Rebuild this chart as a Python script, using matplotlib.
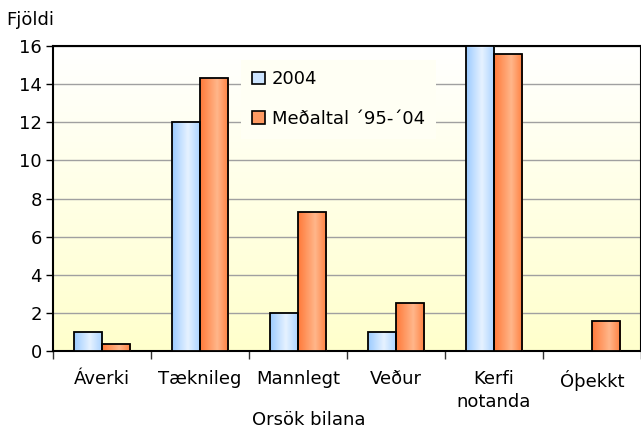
import numpy as np
import matplotlib
matplotlib.use('Agg')
import matplotlib.pyplot as plt
from matplotlib.colors import LinearSegmentedColormap
from matplotlib.patches import Patch

categories = ['Áverki', 'Tæknileg', 'Mannlegt', 'Veður', 'Kerfi\nnotanda', 'Óþekkt']
vals_2004 = [1, 12, 2, 1, 16, 0]
vals_avg = [0.35, 14.3, 7.3, 2.5, 15.6, 1.6]
series_names = ['2004', 'Meðaltal ´95-´04']

plt.rcParams['font.family'] = 'DejaVu Sans'
plt.rcParams['font.size'] = 13

fig = plt.figure(figsize=(6.41, 4.30), dpi=100)
ax = fig.add_axes([53/641, 79/430, 588/641, 305/430])

# background gradient, white at top to light yellow at bottom
bg = LinearSegmentedColormap.from_list('bg', ['#FFFFCC', '#FFFFFF'])
ax.imshow(np.linspace(0, 1, 256).reshape(-1, 1), cmap=bg, origin='lower',
          extent=(0, 1, 0, 1), transform=ax.transAxes, aspect='auto', zorder=0)

blue_cm = LinearSegmentedColormap.from_list('b', [(0, '#9CCBFF'), (0.55, '#E6F2FF'), (1, '#A9D2FF')])
orange_cm = LinearSegmentedColormap.from_list('o', [(0, '#FF7A3A'), (0.6, '#FFB68A'), (1, '#FF8040')])

x = np.arange(len(categories))
w = 0.29
grad = np.linspace(0, 1, 64).reshape(1, -1)

def gradient_bars(pos, vals, cmap):
    bars = ax.bar(pos, vals, width=w, facecolor='none', edgecolor='black',
                  linewidth=1.3, zorder=4)
    for b in bars:
        if b.get_height() <= 0:
            b.set_visible(False)
            continue
        x0, y0 = b.get_x(), b.get_y()
        im = ax.imshow(grad, cmap=cmap, extent=(x0, x0 + b.get_width(), y0, y0 + b.get_height()),
                       aspect='auto', zorder=3)
        im.set_clip_path(b)
    return bars

gradient_bars(x - w / 2, vals_2004, blue_cm)
gradient_bars(x + w / 2, vals_avg, orange_cm)

ax.set_xlim(-0.5, len(categories) - 0.5)
ax.set_ylim(0, 16)
ax.set_yticks(range(0, 17, 2))
ax.yaxis.grid(True, color='#A0A0A0', linewidth=1)
ax.set_axisbelow(True)

ax.set_xticks(np.arange(-0.5, len(categories), 1))
ax.set_xticklabels([])
ax.set_xticks(x, minor=True)
ax.set_xticklabels(categories, minor=True)
ax.tick_params(axis='x', which='major', direction='out', length=6, width=1, color='#333333')
ax.tick_params(axis='x', which='minor', length=0, pad=14)
ax.tick_params(axis='y', direction='out', length=5, width=1, pad=3)
for lbl in ax.get_xticklabels(minor=True):
    lbl.set_linespacing(1.35)

for s in ax.spines.values():
    s.set_color('black')
    s.set_linewidth(1.5)

fig.text(309/641, 1 - 420/430, 'Orsök bilana', ha='center', va='center')
fig.text(6/641, 1 - 20/430, 'Fjöldi', ha='left', va='center')

handles = [Patch(facecolor='#CDE5FF', edgecolor='black', linewidth=1.2),
           Patch(facecolor='#FF9A62', edgecolor='black', linewidth=1.2)]
leg = ax.legend(handles, series_names, loc='upper left', bbox_to_anchor=(0.305, 0.985),
                frameon=True, fancybox=False, handlelength=0.7, handleheight=0.7,
                handletextpad=0.4, labelspacing=1.2, borderpad=0.6)
leg.get_frame().set_facecolor('#FFFFF4')
leg.get_frame().set_edgecolor('none')
leg.get_frame().set_alpha(1)
leg.set_zorder(5)

fig.savefig('out.png', dpi=100)
